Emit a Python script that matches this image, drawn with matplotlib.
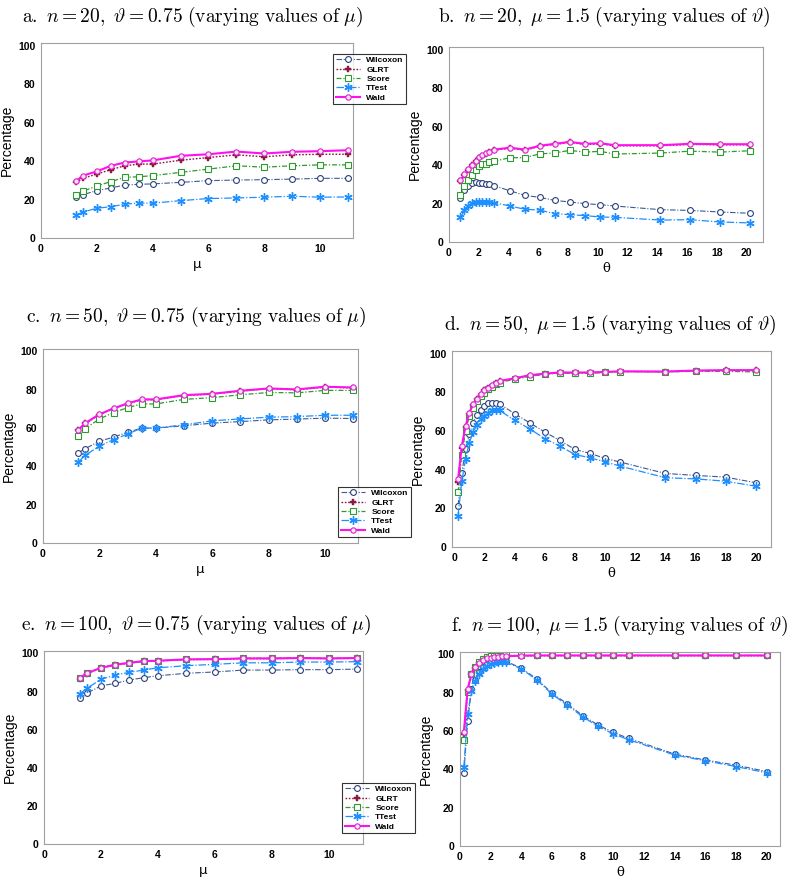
import matplotlib
matplotlib.use("Agg")
import matplotlib.pyplot as plt

plt.rcParams['mathtext.fontset'] = 'cm'

# ---------------- data ----------------
series_names = ["Wilcoxon", "GLRT", "Score", "TTest", "Wald"]

mu_vals = [1.25, 1.5, 2, 2.5, 3, 3.5, 4, 5, 6, 7, 8, 9, 10, 11]
theta_b = [0.77, 1.04, 1.3, 1.55, 1.8, 2.04, 2.25, 2.47, 2.72, 3.05, 4.1, 5.1,
           6.1, 7.1, 8.1, 9.15, 10.15, 11.15, 14.2, 16.2, 18.2, 20.25]
theta_df = [0.25, 0.5, 0.75, 1.0, 1.25, 1.5, 1.75, 2.0, 2.25, 2.5, 2.75, 3.0,
            4, 5, 6, 7, 8, 9, 10, 11, 14, 16, 18, 20]

# panel a: n=20, theta=0.75
a_wilcoxon = [21.3, 22.5, 24.6, 26.0, 27.5, 27.9, 28.1, 28.9, 29.8, 30.1, 30.3, 30.6, 31.0, 31.0]
a_glrt = [28.9, 31.0, 33.2, 35.5, 37.5, 38.4, 38.4, 40.4, 41.8, 43.2, 42.2, 43.2, 43.5, 43.5]
a_score = [22.4, 24.3, 27.0, 29.3, 31.5, 31.8, 32.4, 34.1, 35.8, 37.5, 36.8, 37.5, 38.0, 38.0]
a_ttest = [12.0, 13.4, 15.5, 16.2, 17.6, 18.1, 18.1, 19.4, 20.5, 20.8, 21.2, 21.7, 21.2, 21.3]
a_wald = [29.4, 32.4, 34.6, 37.5, 39.2, 39.8, 40.3, 42.7, 43.5, 44.9, 43.9, 44.8, 45.1, 45.6]

# panel b: n=20, mu=1.5
b_wilcoxon = [23.0, 26.8, 29.1, 30.8, 31.1, 30.6, 30.6, 30.1, 29.9, 29.2, 26.6, 24.2,
              23.2, 21.6, 20.8, 19.9, 19.4, 18.7, 16.8, 16.4, 15.6, 14.9]
b_glrt = [31.6, 34.8, 37.4, 39.8, 42.0, 43.8, 44.7, 45.9, 46.7, 47.7, 48.7, 47.7,
          49.7, 50.7, 51.7, 50.7, 51.0, 50.0, 50.0, 50.7, 50.5, 50.5]
b_score = [24.2, 28.9, 32.4, 35.0, 37.2, 39.4, 40.3, 40.7, 41.5, 42.0, 43.8, 43.8,
           45.8, 46.2, 47.6, 46.7, 47.1, 45.7, 46.2, 47.2, 46.7, 47.4]
b_ttest = [12.8, 16.4, 18.7, 20.4, 20.8, 20.8, 20.8, 20.8, 20.8, 20.4, 18.7, 17.0,
           16.6, 14.7, 14.2, 13.7, 13.0, 12.8, 11.4, 11.6, 10.4, 9.9]
b_wald = [32.0, 35.1, 37.7, 40.1, 42.3, 44.1, 45.0, 46.2, 47.0, 48.0, 49.0, 48.0,
          50.0, 51.0, 52.0, 51.0, 51.3, 50.3, 50.3, 51.0, 50.8, 50.8]

# panel c: n=50, theta=0.75
c_wilcoxon = [47.1, 49.3, 53.1, 55.3, 57.8, 60.0, 60.0, 61.2, 62.6, 63.4, 64.3, 64.7, 65.2, 65.0]
c_glrt = [58.8, 62.4, 67.0, 70.2, 72.8, 74.8, 74.8, 77.0, 77.8, 79.3, 80.6, 80.0, 81.4, 81.0]
c_score = [55.7, 59.7, 64.8, 68.1, 70.7, 72.6, 72.6, 75.0, 75.9, 77.4, 78.6, 78.4, 79.7, 79.7]
c_ttest = [42.2, 45.9, 50.5, 54.0, 56.9, 60.0, 60.0, 61.7, 63.8, 64.8, 65.7, 66.0, 66.7, 66.7]
c_wald = [59.1, 62.6, 67.2, 70.3, 72.9, 75.0, 75.0, 77.2, 77.9, 79.5, 80.7, 80.2, 81.6, 81.2]

# panel d: n=50, mu=1.5
d_wilcoxon = [21.4, 38.3, 50.4, 58.2, 64.2, 68.0, 70.6, 72.9, 74.6, 74.6, 74.6, 74.0,
              68.9, 64.2, 59.4, 55.1, 50.4, 48.4, 45.8, 43.9, 38.0, 37.0, 36.1, 33.2]
d_glrt = [33.5, 51.0, 61.8, 68.8, 73.2, 76.3, 78.6, 80.9, 82.1, 83.4, 84.8, 85.6,
          87.0, 88.6, 89.5, 90.1, 90.1, 90.1, 90.4, 90.7, 90.6, 91.1, 91.3, 91.3]
d_score = [28.3, 47.8, 59.9, 67.7, 72.0, 75.5, 78.1, 79.8, 81.5, 82.9, 84.1, 85.0,
           86.7, 88.1, 89.3, 89.8, 89.8, 89.8, 90.2, 90.7, 90.5, 90.8, 90.8, 90.5]
d_ttest = [16.2, 34.0, 45.6, 53.9, 59.4, 62.9, 66.0, 67.7, 69.4, 70.6, 70.6, 70.6,
           65.5, 61.1, 56.0, 52.2, 47.8, 46.1, 44.0, 41.8, 35.8, 35.2, 34.0, 31.4]
d_wald = [34.9, 52.2, 62.5, 69.4, 73.7, 76.7, 78.9, 81.2, 82.4, 83.6, 85.0, 85.8,
          87.2, 88.8, 89.6, 90.2, 90.2, 90.2, 90.5, 90.8, 90.7, 91.2, 91.4, 91.4]

# panel e: n=100, theta=0.75
e_wilcoxon = [76.5, 79.1, 83.0, 84.3, 86.1, 87.3, 88.3, 89.6, 90.3, 91.3, 91.3, 91.5, 91.5, 91.8]
e_glrt = [86.8, 89.4, 92.4, 94.0, 95.0, 95.9, 96.1, 96.8, 96.9, 97.3, 97.3, 97.5, 97.3, 97.5]
e_score = [87.0, 89.5, 92.3, 94.0, 95.0, 95.9, 96.2, 96.9, 97.1, 97.5, 97.5, 97.7, 97.5, 97.7]
e_ttest = [78.6, 81.7, 86.4, 88.7, 90.1, 91.3, 92.5, 93.6, 94.3, 95.1, 95.1, 95.5, 95.5, 95.7]
e_wald = [87.0, 89.6, 92.5, 94.1, 95.1, 96.0, 96.2, 96.9, 97.0, 97.4, 97.4, 97.6, 97.4, 97.6]

# panel f: n=100, mu=1.5
f_wilcoxon = [38.0, 65.4, 82.0, 86.9, 90.8, 93.4, 95.1, 96.0, 96.7, 96.9, 96.9, 96.5,
              92.8, 87.3, 79.8, 74.2, 68.1, 63.2, 59.3, 56.2, 48.0, 44.9, 42.2, 38.9]
f_glrt = [58.5, 81.5, 89.6, 93.2, 95.5, 97.1, 98.0, 98.3, 98.5, 98.7, 98.9, 99.0,
          99.3, 99.4, 99.4, 99.4, 99.4, 99.4, 99.4, 99.4, 99.4, 99.4, 99.4, 99.4]
f_score = [55.5, 80.3, 89.9, 93.7, 96.0, 97.5, 98.5, 99.0, 99.2, 99.3, 99.4, 99.5,
           99.5, 99.5, 99.5, 99.5, 99.5, 99.5, 99.5, 99.5, 99.5, 99.5, 99.5, 99.5]
f_ttest = [41.0, 69.0, 81.0, 86.0, 90.0, 92.5, 94.0, 95.0, 95.5, 96.0, 96.0, 96.0,
           92.5, 86.8, 79.3, 73.5, 67.5, 62.5, 58.5, 55.5, 47.5, 44.5, 41.5, 38.2]
f_wald = [59.3, 82.0, 89.9, 93.4, 95.6, 97.2, 98.1, 98.4, 98.6, 98.8, 99.0, 99.1,
          99.4, 99.5, 99.5, 99.5, 99.5, 99.5, 99.5, 99.5, 99.5, 99.5, 99.5, 99.5]

x_ticks_mu = [0, 2, 4, 6, 8, 10]
x_ticks_theta = [0, 2, 4, 6, 8, 10, 12, 14, 16, 18, 20]
y_ticks = [0, 20, 40, 60, 80, 100]

titles = [
    r"$\mathrm{a.}\ n = 20,\ \vartheta = 0.75\ \mathrm{(varying\ values\ of}\ \mu\mathrm{)}$",
    r"$\mathrm{b.}\ n = 20,\ \mu = 1.5\ \mathrm{(varying\ values\ of}\ \vartheta\mathrm{)}$",
    r"$\mathrm{c.}\ n = 50,\ \vartheta = 0.75\ \mathrm{(varying\ values\ of}\ \mu\mathrm{)}$",
    r"$\mathrm{d.}\ n = 50,\ \mu = 1.5\ \mathrm{(varying\ values\ of}\ \vartheta\mathrm{)}$",
    r"$\mathrm{e.}\ n = 100,\ \vartheta = 0.75\ \mathrm{(varying\ values\ of}\ \mu\mathrm{)}$",
    r"$\mathrm{f.}\ n = 100,\ \mu = 1.5\ \mathrm{(varying\ values\ of}\ \vartheta\mathrm{)}$",
]

# ---------------- styles ----------------
styles = {
    "Wilcoxon": dict(color="#3c5a96", ls=(0, (5, 1.5, 1, 1.5)), lw=0.8, marker="o", ms=4.2,
                     mfc="white", mec="#2c4078", mew=0.8),
    "GLRT": dict(color="#8b1a3f", ls=(0, (1.2, 1.2)), lw=1.0, marker="P", ms=4.5,
                 mfc="#8b1a3f", mec="#8b1a3f", mew=0.3),
    "Score": dict(color="#2f9a2f", ls=(0, (4, 1.5, 1, 1.5)), lw=0.9, marker="s", ms=4.2,
                  mfc="white", mec="#2f9a2f", mew=0.8),
    "TTest": dict(color="#1e8fff", ls=(0, (6, 1.5, 1, 1.5)), lw=0.9, marker=(6, 2, 0), ms=6,
                  mfc="#1e8fff", mec="#1e8fff", mew=1.0),
    "Wald": dict(color="#ff10ee", ls="-", lw=1.5, marker="o", ms=3.8,
                 mfc="#ffe6fb", mec="#e020d0", mew=0.8),
}

W, H = 800, 886
fig = plt.figure(figsize=(W / 100, H / 100), dpi=100)

def rect(l, r, t, b):
    return [l / W, 1 - b / H, (r - l) / W, (b - t) / H]

panels = [
    dict(rect=rect(41, 353, 43, 238), x=mu_vals,
         data=[a_wilcoxon, a_glrt, a_score, a_ttest, a_wald],
         xlim=(0, 11.18), xt=x_ticks_mu, xl="μ", title=(193, 17),
         legend=(333, 54)),
    dict(rect=rect(449, 763, 47, 242), x=theta_b,
         data=[b_wilcoxon, b_glrt, b_score, b_ttest, b_wald],
         xlim=(0, 21.1), xt=x_ticks_theta, xl="θ", title=(604, 17), legend=None),
    dict(rect=rect(43, 358, 349, 543), x=mu_vals,
         data=[c_wilcoxon, c_glrt, c_score, c_ttest, c_wald],
         xlim=(0, 11.17), xt=x_ticks_mu, xl="μ", title=(196, 317),
         legend=(338, 487)),
    dict(rect=rect(452, 771, 351, 547), x=theta_df,
         data=[d_wilcoxon, d_glrt, d_score, d_ttest, d_wald],
         xlim=(-0.15, 21.0), xt=x_ticks_theta, xl="θ", title=(610, 325), legend=None),
    dict(rect=rect(44, 363, 651, 844), x=mu_vals,
         data=[e_wilcoxon, e_glrt, e_score, e_ttest, e_wald],
         xlim=(0, 11.2), xt=x_ticks_mu, xl="μ", title=(196, 625),
         legend=(342, 783)),
    dict(rect=rect(460, 780, 652, 846), x=theta_df,
         data=[f_wilcoxon, f_glrt, f_score, f_ttest, f_wald],
         xlim=(0, 20.87), xt=x_ticks_theta, xl="θ", title=(620, 626), legend=None),
]

for i, p in enumerate(panels):
    ax = fig.add_axes(p["rect"])
    handles = []
    for name, ys in zip(series_names, p["data"]):
        h, = ax.plot(p["x"], ys, label=name, **styles[name])
        handles.append(h)
    ax.set_xlim(*p["xlim"])
    ax.set_ylim(0, 101.3)
    ax.set_xticks(p["xt"])
    ax.set_yticks(y_ticks)
    for lab in ax.get_xticklabels() + ax.get_yticklabels():
        lab.set_fontfamily("Liberation Sans")
        lab.set_fontweight("bold")
        lab.set_fontsize(7.5)
    ax.tick_params(length=0, pad=4)
    for s in ax.spines.values():
        s.set_color("#a0a0a0")
        s.set_linewidth(0.8)
    ax.set_ylabel("Percentage", fontfamily="Liberation Sans", fontsize=10, labelpad=3)
    fam = "DejaVu Sans" if p["xl"] == "μ" else "DejaVu Serif"
    ax.set_xlabel(p["xl"], fontfamily=fam, fontsize=9.5, labelpad=3)
    fig.text(p["title"][0] / W, 1 - p["title"][1] / H, titles[i],
             ha="center", va="center", fontsize=14)
    if p["legend"] is not None:
        lx, ly = p["legend"]
        leg = ax.legend(handles=handles, loc="upper left",
                        bbox_to_anchor=(lx / W, 1 - ly / H),
                        bbox_transform=fig.transFigure,
                        prop=dict(family="Liberation Sans", weight="bold", size=6),
                        frameon=True, fancybox=False, edgecolor="black",
                        borderpad=0.3, labelspacing=0.18, handlelength=2.9,
                        handletextpad=0.8, borderaxespad=0)
        leg.get_frame().set_linewidth(0.8)

fig.savefig("out.png", dpi=100)
